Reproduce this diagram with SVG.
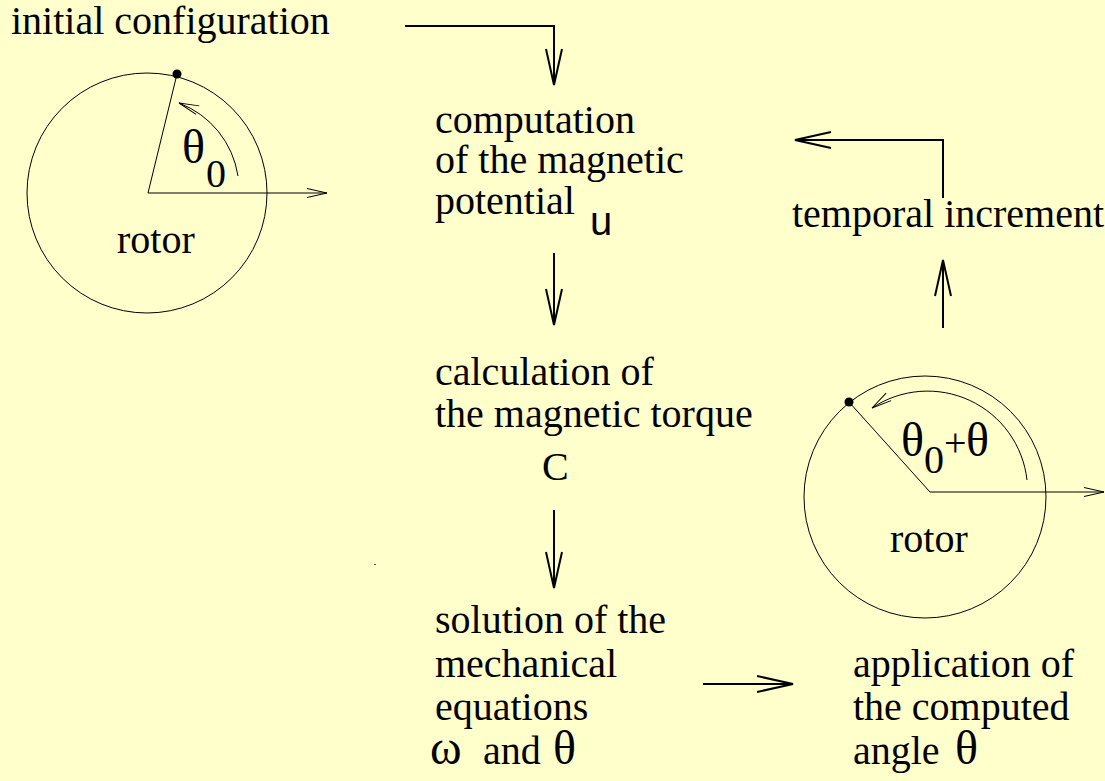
<svg xmlns="http://www.w3.org/2000/svg" width="1105" height="781" viewBox="0 0 1105 781">
<style>
  .t { font-family: "Liberation Serif", "Times New Roman", serif; font-size: 40px; fill: #000; }
  .g { font-family: "Liberation Serif", "Times New Roman", serif; font-size: 48px; fill: #000; }
  .s { font-family: "Liberation Sans", Arial, sans-serif; font-size: 40px; fill: #000; }
  .conn { fill: none; stroke: #000; stroke-width: 2; marker-end: url(#big); }
  .thin { fill: none; stroke: #000; stroke-width: 1; }
  .thinarrow { fill: none; stroke: #000; stroke-width: 1; marker-end: url(#small); }
</style>
<defs>
  <marker id="big" markerUnits="userSpaceOnUse" orient="auto" viewBox="-40 -12 44 24" refX="0" refY="0" markerWidth="44" markerHeight="24" overflow="visible">
    <path d="M-36,-8 L0,0 L-36,8" fill="none" stroke="#000" stroke-width="2"/>
  </marker>
  <marker id="small" markerUnits="userSpaceOnUse" orient="auto" viewBox="-24 -8 28 16" refX="0" refY="0" markerWidth="28" markerHeight="16" overflow="visible">
    <path d="M-20,-4.5 L0,0 L-20,4.5" fill="none" stroke="#000" stroke-width="1"/>
  </marker>
</defs>
<rect x="0" y="0" width="1105" height="781" fill="#ffffcc"/>

<g id="initial-configuration">
  <text class="t" x="11" y="34">initial configuration</text>
</g>

<g id="rotor-initial">
  <circle class="thin" cx="147" cy="193" r="120"/>
  <line class="thin" x1="148" y1="193" x2="177" y2="74"/>
  <circle cx="177" cy="74" r="4.5" fill="#000"/>
  <path class="thinarrow" d="M148,193 L327,193"/>
  <path class="thinarrow" d="M238,176 A93,93 0 0,0 179,103"/>
  <text class="g" x="182" y="163">θ</text>
  <text class="t" x="206" y="187">0</text>
  <text class="t" x="117" y="253">rotor</text>
</g>

<g id="computation">
  <text class="t" x="435" y="133">computation</text>
  <text class="t" x="435" y="173">of the magnetic</text>
  <text class="t" x="435" y="214">potential</text>
  <text class="s" x="590" y="235">u</text>
</g>

<g id="calculation">
  <text class="t" x="435" y="385">calculation of</text>
  <text class="t" x="435" y="427">the magnetic torque</text>
  <text class="t" x="542" y="480">C</text>
</g>

<g id="solution">
  <text class="t" x="435" y="633">solution of the</text>
  <text class="t" x="435" y="677">mechanical</text>
  <text class="t" x="435" y="720">equations</text>
  <text class="g" x="430" y="764" font-size="42">ω</text>
  <text class="t" x="483" y="764">and</text>
  <text class="g" x="553" y="764" font-size="46">θ</text>
</g>

<g id="application">
  <text class="t" x="853" y="677">application of</text>
  <text class="t" x="853" y="720">the computed</text>
  <text class="t" x="853" y="764">angle</text>
  <text class="g" x="955" y="764" font-size="46">θ</text>
</g>

<g id="rotor-updated">
  <circle class="thin" cx="925" cy="497" r="121"/>
  <line class="thin" x1="930" y1="492" x2="849" y2="402"/>
  <circle cx="849" cy="402" r="4.5" fill="#000"/>
  <path class="thinarrow" d="M930,492 L1104,492"/>
  <path class="thinarrow" d="M1027,480 A100,100 0 0,0 872,408"/>
  <text class="g" x="901" y="456">θ</text>
  <text class="t" x="924" y="473">0</text>
  <text class="t" x="944" y="456">+</text>
  <text class="g" x="966" y="456">θ</text>
  <text class="t" x="890" y="552">rotor</text>
</g>

<g id="temporal-increment">
  <text class="t" x="792" y="227">temporal increment</text>
</g>

<g id="connectors">
  <path class="conn" d="M405,26 L554,26 L554,85"/>
  <path class="conn" d="M554,253 L554,325"/>
  <path class="conn" d="M554,510 L554,588"/>
  <path class="conn" d="M703,684 L793,684"/>
  <path class="conn" d="M943,328 L943,260"/>
  <path class="conn" d="M943,198 L943,140 L795,140"/>
</g>

<rect x="374" y="564" width="2" height="1" fill="#555"/>
</svg>
